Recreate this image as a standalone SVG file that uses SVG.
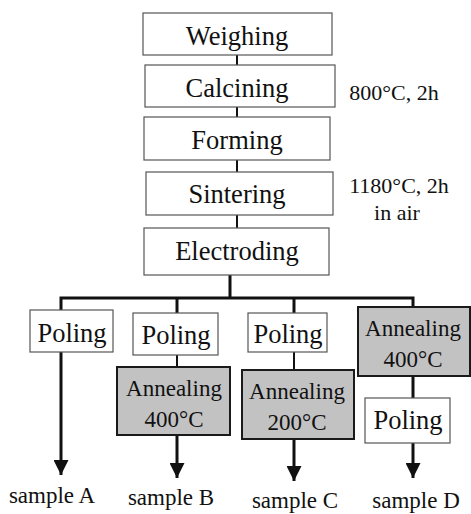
<svg xmlns="http://www.w3.org/2000/svg" width="471" height="514" viewBox="0 0 471 514">
<style>
text{font-family:"Liberation Serif","Times New Roman",serif;fill:#111;text-anchor:middle}
.box{fill:#fff;stroke:#555;stroke-width:1.2}
.ann{fill:#c2c2c2;stroke:#1a1a1a;stroke-width:2}
.big{font-size:26.5px}
.mid{font-size:23px}
.note{font-size:22px}
.tick{stroke:#111;stroke-width:2;fill:none}
.line{stroke:#111;stroke-width:3;fill:none}
</style>
<defs>
<marker id="ah" markerWidth="5" markerHeight="5" refX="10" refY="5" orient="auto" markerUnits="strokeWidth" viewBox="0 0 10 10">
<path d="M0,0 L10,5 L0,10 Z" fill="#111"/>
</marker>
</defs>
<g id="connectors">
<line class="tick" x1="237" y1="55" x2="237" y2="65"/>
<line class="tick" x1="237" y1="107" x2="237" y2="117"/>
<line class="tick" x1="237" y1="160" x2="237" y2="172"/>
<line class="tick" x1="237" y1="215" x2="237" y2="228"/>
<line class="line" x1="230" y1="275" x2="230" y2="298"/>
<polyline class="line" points="61,310 61,298 413,298 413,307"/>
<line class="line" x1="177" y1="298" x2="177" y2="313"/>
<line class="line" x1="294" y1="298" x2="294" y2="313"/>
<line class="tick" x1="177" y1="355" x2="177" y2="367"/>
<line class="tick" x1="294" y1="352" x2="294" y2="370"/>
<line class="line" x1="413" y1="376" x2="413" y2="398"/>
<line class="line" x1="61" y1="352" x2="61" y2="475" marker-end="url(#ah)"/>
<line class="line" x1="177" y1="435" x2="177" y2="478" marker-end="url(#ah)"/>
<line class="line" x1="294" y1="439" x2="294" y2="481" marker-end="url(#ah)"/>
<line class="line" x1="413" y1="443" x2="413" y2="478" marker-end="url(#ah)"/>
</g>
<g id="weighing"><rect class="box" x="143" y="13" width="189" height="42"/><text class="big" x="237" y="45">Weighing</text></g>
<g id="calcining"><rect class="box" x="145" y="65" width="190" height="42"/><text class="big" x="237" y="97">Calcining</text></g>
<g id="forming"><rect class="box" x="144" y="117" width="186" height="43"/><text class="big" x="237" y="149">Forming</text></g>
<g id="sintering"><rect class="box" x="146" y="172" width="187" height="43"/><text class="big" x="237" y="203">Sintering</text></g>
<g id="electroding"><rect class="box" x="144" y="228" width="185" height="47"/><text class="big" x="237" y="260">Electroding</text></g>
<g id="note1"><text class="note" x="394" y="100">800°C, 2h</text></g>
<g id="note2"><text class="note" x="399" y="193">1180°C, 2h</text><text class="note" x="397" y="220">in air</text></g>
<g id="polingA"><rect class="box" x="30" y="310" width="83" height="42"/><text class="big" x="72" y="342">Poling</text></g>
<g id="polingB"><rect class="box" x="133" y="313" width="85" height="42"/><text class="big" x="176" y="344">Poling</text></g>
<g id="annealB"><rect class="ann" x="117" y="367" width="113" height="68"/><text class="mid" x="174" y="396">Annealing</text><text class="mid" x="174" y="427">400°C</text></g>
<g id="polingC"><rect class="box" x="248" y="313" width="79" height="39"/><text class="big" x="288" y="343">Poling</text></g>
<g id="annealC"><rect class="ann" x="242" y="370" width="112" height="69"/><text class="mid" x="297" y="399">Annealing</text><text class="mid" x="297" y="430">200°C</text></g>
<g id="annealD"><rect class="ann" x="358" y="307" width="112" height="69"/><text class="mid" x="413" y="336">Annealing</text><text class="mid" x="413" y="367">400°C</text></g>
<g id="polingD"><rect class="box" x="365" y="398" width="85" height="45"/><text class="big" x="408" y="429">Poling</text></g>
<g id="labels">
<text class="mid" x="52" y="503">sample A</text>
<text class="mid" x="171" y="505">sample B</text>
<text class="mid" x="295" y="508">sample C</text>
<text class="mid" x="416" y="508">sample D</text>
</g>
</svg>
